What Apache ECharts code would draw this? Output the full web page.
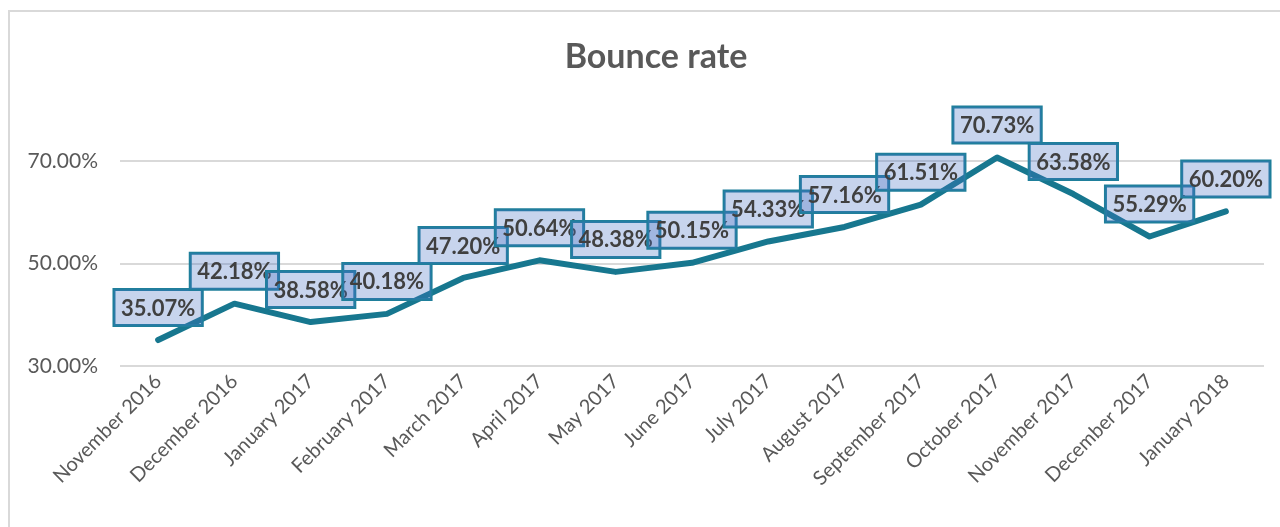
<!DOCTYPE html>
<html><head><meta charset="utf-8">
<script src="https://cdn.jsdelivr.net/npm/echarts@6/dist/echarts.min.js"></script>
<style>html,body{margin:0;padding:0;background:#fff}#c{width:1280px;height:527px}</style>
</head><body><div id="c"></div>
<script>
const categories = ['November 2016','December 2016','January 2017','February 2017','March 2017','April 2017','May 2017','June 2017','July 2017','August 2017','September 2017','October 2017','November 2017','December 2017','January 2018'];
const bounceRate = [35.07,42.18,38.58,40.18,47.20,50.64,48.38,50.15,54.33,57.16,61.51,70.73,63.58,55.29,60.20];
const chartTitle = 'Bounce rate';

const chart = echarts.init(document.getElementById('c'));
chart.setOption({
  animation:false,
  backgroundColor:'#fff',
  graphic:[{type:'rect',shape:{x:9,y:11,width:1300,height:540},style:{fill:'none',stroke:'#d9d9d9',lineWidth:2},z:-1}],
  title:{text:chartTitle,left:651,top:35,textAlign:'center',textStyle:{fontFamily:'Lato',fontWeight:'bold',fontSize:34,color:'#595959'}},
  grid:{left:120,right:16,top:110,bottom:161},
  xAxis:{type:'category',data:categories,boundaryGap:true,
    axisLine:{show:false},axisTick:{show:false},
    axisLabel:{rotate:45,margin:12,interval:0,fontFamily:'Lato',fontSize:20,color:'#595959'}},
  yAxis:{type:'value',min:30,max:80,interval:20,
    axisLine:{show:false},axisTick:{show:false},
    splitLine:{show:true,showMaxLine:false,lineStyle:{color:'#d9d9d9',width:2}},
    axisLabel:{showMaxLabel:false,margin:22,fontFamily:'Lato',fontSize:21,color:'#595959',formatter:v=>v.toFixed(2)+'%'}},
  series:[{type:'line',data:bounceRate,symbol:'circle',symbolSize:1,showSymbol:true,
    itemStyle:{color:'#17778f'},
    lineStyle:{color:'#17778f',width:6,cap:'round',join:'round'},
    label:{show:true,position:'top',distance:14,formatter:p=>p.value.toFixed(2)+'%',
      fontFamily:'Lato',fontWeight:'bold',fontSize:22,color:'#404040',
      backgroundColor:'rgba(68,114,196,0.3)',borderColor:'#1f7f9b',borderWidth:1.5,
      padding:[8,7,6,7]},
    labelLayout:{hideOverlap:false}
  }]
});
</script></body></html>
